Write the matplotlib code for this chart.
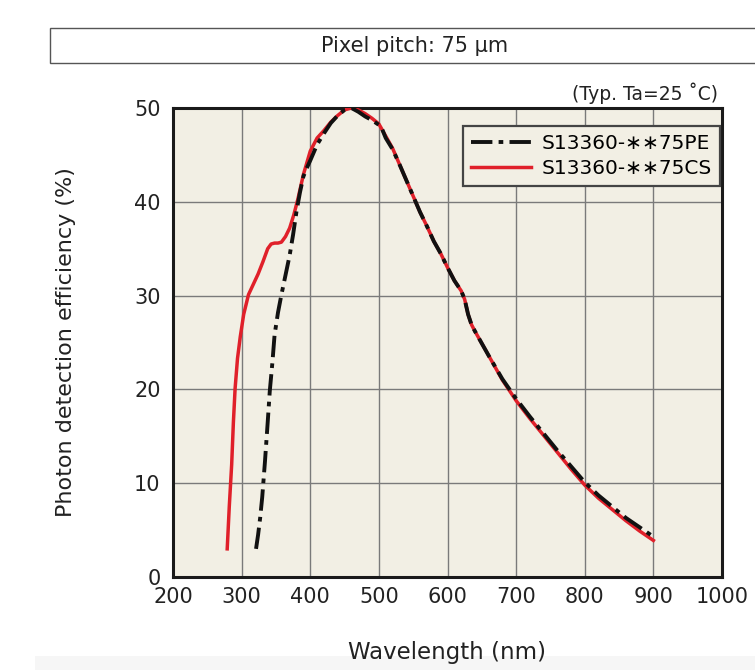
import matplotlib
matplotlib.use("Agg")
import matplotlib.pyplot as plt
from matplotlib.patches import Rectangle

# --- data ---
cs_wl = [279, 282, 285.5, 288, 290.5, 294, 298, 303, 310, 317, 324, 331, 338, 343,
         348, 353, 358, 364, 370, 376, 382, 390, 400, 410, 420, 430, 440, 450, 460,
         470, 480, 490, 500, 510, 520, 530, 540, 550, 560, 570, 580, 590, 600, 610,
         620, 625, 630, 635, 640, 650, 660, 680, 700, 720, 740, 760, 780, 800, 820,
         840, 860, 880, 900]
cs_pde = [3.0, 7.5, 12.0, 16.5, 20.1, 23.3, 25.6, 28.0, 30.1, 31.2, 32.3, 33.6, 35.0, 35.5,
          35.6, 35.6, 35.7, 36.3, 37.2, 38.6, 40.3, 42.9, 45.4, 46.8, 47.6, 48.5, 49.2, 49.8, 50.0,
          49.8, 49.4, 48.9, 48.3, 47.0, 45.7, 44.0, 42.3, 40.6, 38.9, 37.4, 35.8, 34.5, 33.0, 31.6,
          30.5, 29.6, 28.0, 26.9, 26.2, 24.9, 23.6, 21.0, 18.8, 16.9, 15.1, 13.3, 11.5, 9.8, 8.4,
          7.2, 6.0, 4.9, 3.9]

pe_wl = [321, 324, 327, 330, 334, 338, 341, 345, 348, 353, 358, 364, 370, 375, 380, 385,
         390, 395, 400, 410, 420, 430, 440, 450, 460, 470, 480, 490, 500, 505, 510, 520,
         530, 540, 550, 560, 570, 580, 590, 600, 610, 620, 625, 630, 635, 640, 650, 660,
         680, 700, 720, 740, 760, 780, 800, 820, 840, 860, 880, 900]
pe_pde = [3.0, 4.5, 6.3, 8.5, 12.3, 16.5, 19.8, 23.0, 25.8, 28.2, 30.1, 32.2, 34.3, 36.5, 39.0, 41.0,
          42.7, 43.6, 44.4, 46.1, 47.3, 48.4, 49.2, 49.8, 50.0, 49.6, 49.1, 48.7, 48.2, 47.7, 46.8, 45.6,
          44.0, 42.3, 40.6, 38.9, 37.4, 35.8, 34.5, 33.0, 31.6, 30.5, 29.6, 28.0, 26.9, 26.2, 24.9, 23.6,
          21.1, 19.0, 17.1, 15.3, 13.5, 11.8, 10.1, 8.7, 7.5, 6.3, 5.3, 4.3]

x_ticks = [200, 300, 400, 500, 600, 700, 800, 900, 1000]
y_ticks = [0, 10, 20, 30, 40, 50]
labels = ["S13360-\u2217\u221775PE", "S13360-\u2217\u221775CS"]

# --- figure ---
W, H = 755, 670
fig = plt.figure(figsize=(W / 100, H / 100), dpi=100)
plt.rcParams['font.family'] = ['DejaVu Sans']

# light strip at bottom
fig.patches.append(Rectangle((35 / W, 0), 1, 14 / H, transform=fig.transFigure,
                             facecolor='#f6f6f6', edgecolor='none', zorder=-5))
# title box
fig.patches.append(Rectangle((50 / W, 1 - 63 / H), 1.0, 35 / H, transform=fig.transFigure,
                             facecolor='white', edgecolor='#555555', linewidth=1.0))
fig.text(415 / W, 1 - 46 / H, "Pixel pitch: 75 \u00b5m", ha='center', va='center',
         fontsize=15, color='#222222')
fig.text(718 / W, 1 - 93 / H, "(Typ. Ta=25 \u02daC)", ha='right', va='center',
         fontsize=13.5, color='#222222')

ax = fig.add_axes([173 / W, 1 - 577 / H, (722 - 173) / W, (577 - 108) / H])
ax.set_facecolor('#f2efe4')
ax.set_xlim(200, 1000)
ax.set_ylim(0, 50)
ax.set_xticks(x_ticks)
ax.set_yticks(y_ticks)
ax.grid(True, color='#7a7a7a', linewidth=1.0)
ax.set_axisbelow(True)
for s in ax.spines.values():
    s.set_linewidth(2.2)
    s.set_color('#1a1a1a')
ax.tick_params(length=0, labelsize=15, labelcolor='#222222')
ax.tick_params(axis='x', pad=7)
ax.tick_params(axis='y', pad=9)

l_cs, = ax.plot(cs_wl, cs_pde, color='#e0202a', linewidth=2.5, zorder=3)
l_pe, = ax.plot(pe_wl, pe_pde, color='#111111', linewidth=2.8, zorder=4,
                dashes=(5.5, 1.6, 1.2, 1.6))

ax.set_xlabel("Wavelength (nm)", fontsize=16.5, color='#222222')
ax.xaxis.label.set_va('center')
ax.xaxis.set_label_coords((447 - 173) / 549, (577 - 653) / 469)
ax.set_ylabel("Photon detection efficiency (%)", fontsize=16, color='#222222')
ax.yaxis.label.set_va('center')
ax.yaxis.set_label_coords((66 - 173) / 549, (577 - 342) / 469)

leg = ax.legend([l_pe, l_cs], labels, loc='upper right', bbox_to_anchor=(0.996, 0.962),
                fontsize=14.5, handlelength=3.0, frameon=True, fancybox=False,
                borderpad=0.4, labelspacing=0.3, handletextpad=0.5, borderaxespad=0)
leg.get_frame().set_facecolor('#f2efe4')
leg.get_frame().set_edgecolor('#444444')
leg.get_frame().set_linewidth(1.6)
leg.get_frame().set_alpha(1)

fig.savefig("out.png", dpi=100)
